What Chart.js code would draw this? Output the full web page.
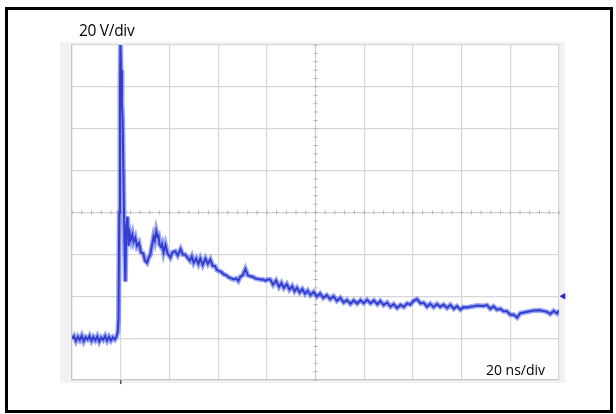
<!DOCTYPE html>
<html>
<head>
<meta charset="utf-8">
<script src="https://cdn.jsdelivr.net/npm/chart.js@4.4.0/dist/chart.umd.min.js"></script>
<style>
  html, body { margin: 0; padding: 0; background: #fff; }
  #wrap { position: relative; width: 616px; height: 414px; overflow: hidden; }
  #frame { position: absolute; left: 5px; top: 7px; width: 608px; height: 406px; border: 3px solid #000; box-sizing: border-box; }
  #scope { position: absolute; left: 60px; top: 42px; width: 505px; height: 341px; background: #f2f2f2; }
  #chart { position: absolute; left: 0; top: 0; }
  .lbl { position: absolute; font-family: "Open Sans", sans-serif; color: #000; white-space: nowrap; }
  #vdiv { left: 79px; top: 19px; font-size: 15.5px; letter-spacing: -0.3px; }
  #tdiv { left: 480px; top: 361px; width: 71px; height: 18px; line-height: 18px; font-size: 14px; text-align: center; background: #fff; }
</style>
</head>
<body>
<div id="wrap">
  <div id="frame"></div>
  <div id="scope"></div>
  <canvas id="chart" width="616" height="414"></canvas>
  <div class="lbl" id="vdiv">20 V/div</div>
  <div class="lbl" id="tdiv">20 ns/div</div>
</div>
<script>
// time in ns (20 ns/div), voltage in V (20 V/div)
const timeNs = [
  0, 0.8, 1.6, 2.4, 3.2, 4, 4.8, 5.6, 6.4, 7.2, 8, 8.8, 9.6, 10.4, 11.2, 12, 12.8, 13.6, 14.4, 15.2, 16, 16.8, 17.6, 18.3,
  18.8, 19.1, 19.4, 19.7, 19.9, 20.2, 20.5, 20.8, 21.1, 21.5, 21.9, 22.3, 22.8, 23.2, 23.7, 24.2, 24.8, 25.3, 26, 26.7,
  27.5, 28.3, 29.2, 30, 30.8, 31.5, 32.1, 32.8, 33.5, 34, 34.6, 35.1, 35.5, 36, 36.5, 37, 37.6, 38.4, 39.2, 40.4, 41.3,
  42.4, 43.4, 44.6, 45.5, 46.4, 47.4, 48.4, 49.2, 50, 51, 51.9, 52.7, 53.7, 54.8, 55.8, 56.8, 57.8, 58.7, 59.5, 60.5,
  61.4, 62.3, 63.4, 64.4, 65.4, 66.4, 67.4, 68.3, 69.1, 70.1, 71.2, 72.2, 73.2, 74.3, 75.3, 76.3, 77.3, 78.4, 79.4,
  80.4, 81.4, 82.6, 83.8, 85, 86, 87, 88.2, 89.3, 90.4, 91.4, 92.4, 93.5, 94.6, 95.7, 96.8, 97.9, 99.2, 100.6, 101.9,
  103.2, 104.6, 106, 107.4, 108.8, 110.2, 111.6, 112.9, 114.3, 115.7, 117.1, 118.5, 119.8, 121.2, 122.6, 124, 125.4,
  126.6, 128, 129.4, 130.8, 132.1, 133.5, 134.9, 136.3, 137.6, 138.9, 140.3, 141.7, 143.1, 144.4, 145.8, 147.1, 148.5,
  149.9, 151.2, 152.6, 154, 155.4, 156.8, 158.1, 159.5, 160.8, 162.2, 163.6, 165, 166.3, 167.7, 169.1, 170.4, 171.8,
  173.1, 174.5, 175.9, 177.2, 178.6, 180, 181.4, 182.8, 184.1, 185.5, 186.9, 188.2, 189.6, 191, 192.3, 193.7, 195,
  196.4, 197.8, 199.1, 200
];
const volts = [
  -0.3, 0.9, -1.4, 0.6, -0.9, 1.1, -1.5, 0.4, -0.6, 1.0, -1.3, 0.5, -1.0, 0.8, -1.6, 0.3, -0.8, 1.0, -1.2, 0.6, -1.1, 0.4, -0.6, 0.8,
  3, 9, 60, 120, 140, 128, 112, 104, 80, 50, 27, 53, 58, 44, 50, 47, 49.5, 46, 48, 44,
  45.5, 41, 40.5, 37, 36, 38.5, 39.5, 44, 48.5, 46.5, 51, 48.5, 49, 44.5, 43.6, 45, 41, 44.5, 40.5, 38.5, 41,
  41.5, 39.5, 42.5, 40, 40, 38.5, 37, 39, 36, 38, 35.5, 38, 35, 38, 35.5, 37.5, 34.5, 34.5, 32.5, 32,
  31.5, 30.5, 30, 29, 28.5, 28, 28.5, 27.3, 29.3, 30, 33, 30, 29.5, 29.3, 28.5, 28.3, 28, 28, 27.5,
  28, 28, 25.5, 27.5, 24.5, 26.3, 24, 25.8, 23.2, 24.8, 22.4, 24, 21.8, 23.4, 21.2, 22.7, 20.6, 22, 19.9, 21.3,
  19.2, 20.5, 18.6, 20, 17.8, 19.2, 17, 18.2, 16.4, 18, 16.5, 18.1, 16.7, 18.3, 16.6, 18, 16.2,
  17.7, 15.8, 17, 15, 16.2, 14.4, 15.9, 14.9, 16.6, 16, 17.8, 18.6, 16.6, 16.9, 15, 16.4, 14.8,
  16.3, 14.9, 16, 14.4, 15.9, 14, 15.3, 13.6, 14.8, 14.6, 15, 15.2, 15.6, 15.5, 15.4, 15.8, 14,
  15.2, 13.6, 14, 12.8, 12.8, 11.2, 11.2, 9.8, 11.9, 12.2, 12.6, 12.8, 13.2, 13.2, 13.3, 12.9, 12.6,
  11.5, 13, 11.8, 13.2
];
// scope markers: ground reference (left), trigger level (right), trigger time (bottom)
const groundMarker = [{ x: -2.6, y: 2 }];
const triggerLevel = [{ x: 201.8, y: 20 }];
const triggerTime = [{ x: 20, y: -21 }];

const xMin = 0, xMax = 200, xStep = 20;
const yMin = -20, yMax = 140, yStep = 20;

const trace = timeNs.map((t, i) => ({ x: t, y: volts[i] }));

// white screen inside the graticule, dotted centre cross with minor ticks
const graticule = {
  id: "graticule",
  beforeDraw(chart) {
    const { ctx, chartArea: a } = chart;
    ctx.save();
    ctx.fillStyle = "#fff";
    ctx.fillRect(a.left, a.top, a.right - a.left, a.bottom - a.top);
    ctx.restore();
  },
  beforeDatasetsDraw(chart) {
    const { ctx, chartArea: a, scales: { x, y } } = chart;
    const cx = x.getPixelForValue((xMin + xMax) / 2);
    const cy = y.getPixelForValue((yMin + yMax) / 2);
    ctx.save();
    ctx.strokeStyle = "#c4c4c4";
    ctx.lineWidth = 1;
    ctx.setLineDash([2, 3]);
    ctx.beginPath();
    ctx.moveTo(a.left, cy); ctx.lineTo(a.right, cy);
    ctx.moveTo(cx, a.top); ctx.lineTo(cx, a.bottom);
    ctx.stroke();
    ctx.setLineDash([]);
    ctx.strokeStyle = "#b0b0b0";
    ctx.beginPath();
    for (let v = xMin; v <= xMax; v += xStep / 5) {
      const px = x.getPixelForValue(v);
      ctx.moveTo(px, cy - 2); ctx.lineTo(px, cy + 2);
    }
    for (let v = yMin; v <= yMax; v += yStep / 5) {
      const py = y.getPixelForValue(v);
      ctx.moveTo(cx - 2, py); ctx.lineTo(cx + 2, py);
    }
    ctx.stroke();
    ctx.restore();
  },
};

new Chart(document.getElementById("chart"), {
  type: "scatter",
  data: {
    datasets: [
      {
        // soft halo of the noisy trace
        data: trace,
        showLine: true,
        borderColor: "rgba(70, 90, 235, 0.55)",
        borderWidth: 5,
        pointRadius: 0,
        tension: 0,
      },
      {
        data: trace,
        showLine: true,
        borderColor: "rgb(28, 28, 170)",
        borderWidth: 2,
        pointRadius: 0,
        tension: 0,
      },
      {
        data: groundMarker,
        pointStyle: "rect",
        pointRadius: 3,
        borderColor: "rgb(60, 70, 200)",
        borderWidth: 1,
        backgroundColor: "rgba(255,255,255,0)",
        clip: false,
      },
      {
        data: triggerLevel,
        pointStyle: "triangle",
        rotation: 270,
        pointRadius: 3,
        borderColor: "rgb(32, 36, 196)",
        backgroundColor: "rgb(32, 36, 196)",
        borderWidth: 1,
        clip: false,
      },
      {
        data: triggerTime,
        pointStyle: "line",
        rotation: 90,
        pointRadius: 2,
        borderColor: "#555",
        borderWidth: 1.5,
        clip: false,
      },
    ],
  },
  options: {
    responsive: false,
    animation: false,
    events: [],
    layout: { padding: { left: 72, right: 57, top: 45, bottom: 34 } },
    plugins: { legend: { display: false }, tooltip: { enabled: false } },
    scales: {
      x: {
        type: "linear",
        min: xMin,
        max: xMax,
        ticks: { display: false, stepSize: xStep },
        grid: { color: "#d6d6d6", lineWidth: 1.2, drawTicks: false },
        border: { color: "#c8c8c8", width: 1.2 },
      },
      y: {
        type: "linear",
        min: yMin,
        max: yMax,
        ticks: { display: false, stepSize: yStep },
        grid: { color: "#d6d6d6", lineWidth: 1.2, drawTicks: false },
        border: { color: "#c8c8c8", width: 1.2 },
      },
    },
  },
  plugins: [graticule],
});
</script>
</body>
</html>
